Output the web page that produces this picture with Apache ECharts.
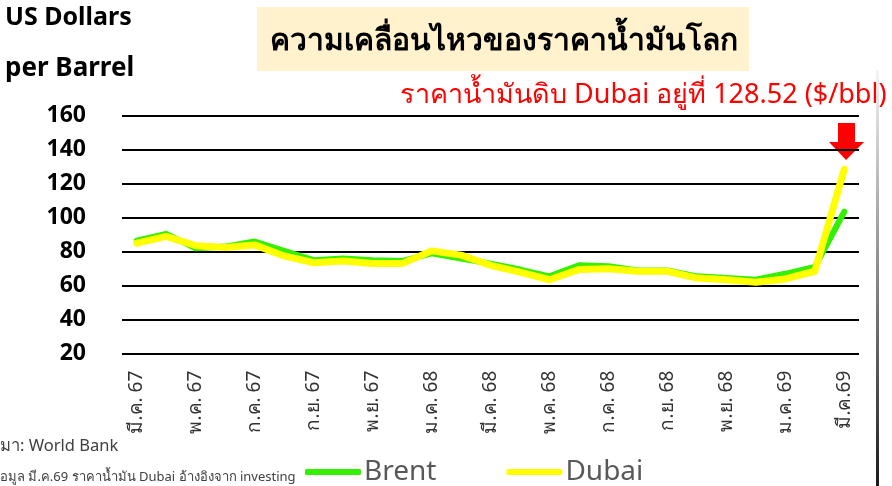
<!doctype html>
<html>
<head>
    <meta http-equiv="Content-Type" content="text/html; charset=utf-8">
    <title>ความเคลื่อนไหวของราคาน้ำมันโลก</title>
    <script src="https://cdn.jsdelivr.net/npm/echarts@6/dist/echarts.min.js"></script>
    <style>
        html, body {margin: 0; padding: 0; background: #fff;}
        #oilchart {width: 892px; height: 486px;}
    </style>
</head>
<body>
<div id="oilchart"></div>
<script type="text/javascript">
    var months = ['มี.ค. 67','เม.ย. 67','พ.ค. 67','มิ.ย. 67','ก.ค. 67','ส.ค. 67','ก.ย. 67','ต.ค. 67','พ.ย. 67','ธ.ค. 67',
        'ม.ค. 68','ก.พ. 68','มี.ค. 68','เม.ย. 68','พ.ค. 68','มิ.ย. 68','ก.ค. 68','ส.ค. 68','ก.ย. 68','ต.ค. 68',
        'พ.ย. 68','ธ.ค. 68','ม.ค. 69','ก.พ. 69','มี.ค.69'];
    var brent = [86.5, 90.5, 82, 83, 86, 80.5, 75, 76, 75, 74.5, 79, 76, 73, 69.5, 65.5, 72, 71.5, 69, 69, 65.5, 64.5, 63.5, 67, 71, 103.5];
    var dubai = [85, 89, 83.5, 82.5, 84, 77.5, 73.5, 74.5, 73, 73, 80.5, 78, 72, 68, 63.5, 69.5, 70, 68.5, 68.5, 64.5, 63.5, 62, 64, 68.5, 128.52];
    var yTicks = {min: 20, max: 160, step: 20};

    var FONT = "'Noto Sans', 'DejaVu Sans', sans-serif";

    var myChart = echarts.init(document.getElementById('oilchart'));
    var option = {
        animation: false,
        textStyle: {fontFamily: FONT},
        grid: {left: 122, right: 33, top: 115.7, bottom: 132.3},
        legend: {
            data: ['Brent', 'Dubai'],
            left: 300,
            top: 453,
            icon: 'roundRect',
            itemWidth: 56,
            itemHeight: 6,
            itemGap: 70,
            textStyle: {fontSize: 28, color: '#595959', fontFamily: FONT, padding: [0, 0, 0, -2]}
        },
        xAxis: {
            type: 'category',
            boundaryGap: true,
            data: months,
            axisLine: {show: false},
            axisTick: {show: false},
            axisLabel: {
                interval: 1,
                rotate: 90,
                margin: 17,
                fontSize: 19,
                color: '#333'
            }
        },
        yAxis: {
            type: 'value',
            min: yTicks.min,
            max: yTicks.max,
            interval: yTicks.step,
            axisLine: {show: false},
            axisTick: {show: false},
            axisLabel: {fontSize: 23, fontWeight: 'bold', color: '#000', margin: 36},
            splitLine: {lineStyle: {color: '#000', width: 2}}
        },
        series: [
            {
                name: 'Brent',
                type: 'line',
                data: brent,
                symbol: 'none',
                itemStyle: {color: '#33f000'},
                lineStyle: {color: '#33f000', width: 6, cap: 'round', join: 'round'}
            },
            {
                name: 'Dubai',
                type: 'line',
                data: dubai,
                symbol: 'none',
                itemStyle: {color: '#ffff00'},
                lineStyle: {color: '#ffff00', width: 7, cap: 'round', join: 'round'}
            }
        ],
        graphic: [
            // กล่องหัวเรื่อง
            {type: 'rect', left: 257, top: 7, shape: {width: 492, height: 64}, style: {fill: '#fff2cc'}},
            {type: 'text', left: 270, top: 26, style: {text: 'ความเคลื่อนไหวของราคาน้ำมันโลก', font: 'bold 30px ' + FONT, fill: '#000'}},
            {type: 'text', left: 5, top: 5, style: {text: 'US Dollars', font: 'bold 25px ' + FONT, fill: '#000'}},
            {type: 'text', left: 5, top: 56, style: {text: 'per Barrel', font: 'bold 26px ' + FONT, fill: '#000'}},
            {type: 'text', left: 400, top: 82, style: {text: 'ราคาน้ำมันดิบ Dubai อยู่ที่ 128.52 ($/bbl)', font: '27px ' + FONT, fill: '#ff0000'}},
            // ลูกศรแดง
            {type: 'polygon', shape: {points: [[838, 123], [855, 123], [855, 142], [864, 142], [846, 160], [829, 142], [838, 142]]}, style: {fill: '#ff0000'}},
            {type: 'text', left: 0, top: 438, style: {text: 'มา: World Bank', font: '16.5px ' + FONT, fill: '#404040'}},
            {type: 'text', left: 0, top: 471, style: {text: 'อมูล มี.ค.69 ราคาน้ำมัน Dubai อ้างอิงจาก investing', font: '13px ' + FONT, fill: '#404040'}},
            // เส้นขอบด้านขวา
            {type: 'rect', left: 876, top: 70, shape: {width: 3, height: 416}, style: {
                fill: new echarts.graphic.LinearGradient(0, 0, 0, 1, [{offset: 0, color: '#f4f4f4'}, {offset: 1, color: '#1a1a1a'}])
            }}
        ]
    };
    myChart.setOption(option);
</script>
</body>
</html>
